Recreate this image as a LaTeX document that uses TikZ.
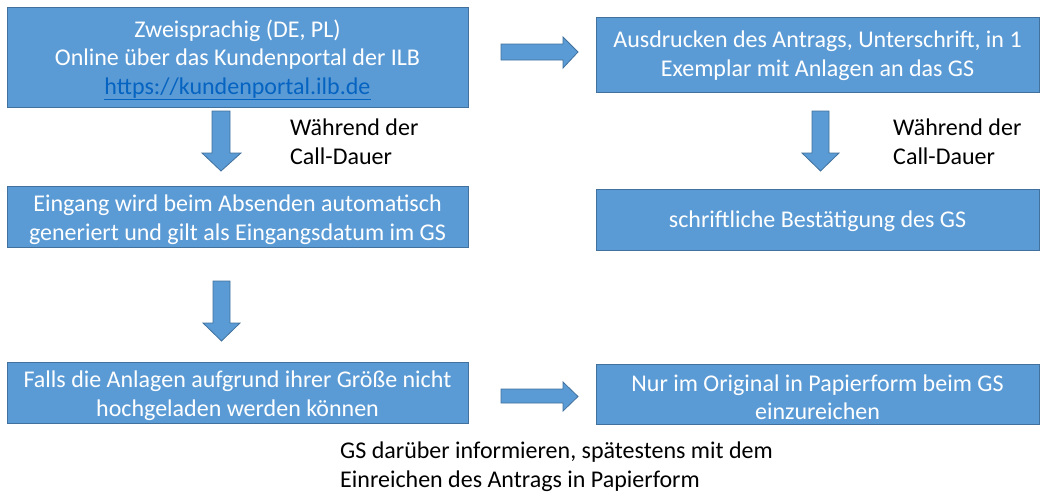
\documentclass[tikz,border=0pt]{standalone}
\usepackage{fontspec}
\setmainfont{Carlito}
\definecolor{boxfill}{HTML}{5B9BD5}
\definecolor{boxline}{HTML}{41719C}
\definecolor{linkblue}{HTML}{0563C1}
\begin{document}
\begin{tikzpicture}[x=1pt,y=-1pt,
  flowbox/.style={draw=boxline,fill=boxfill,line width=1pt,rectangle,inner sep=0pt},
  boxtext/.style={text=white,align=center,inner sep=0pt,yshift=-3pt,font=\fontsize{24}{28.5}\selectfont},
  blockarrow/.style={draw=boxline,fill=boxfill,line width=0.8pt,line join=miter},
  note/.style={anchor=base west,align=left,inner sep=0pt,text=black,font=\fontsize{24}{29}\selectfont}]
\useasboundingbox (0,0) rectangle (1043,491);
\fill[white] (0,0) rectangle (1043,491);
% boxes
\node[flowbox,minimum width=461pt,minimum height=100pt,
  label={[boxtext]center:Zweisprachig (DE, PL)\\Online über das Kundenportal der ILB\\\textcolor{linkblue}{\underline{https://kundenportal.ilb.de}}}] (l1) at (237.5,57) {};
\node[flowbox,minimum width=461pt,minimum height=61pt,
  label={[boxtext]center:Eingang wird beim Absenden automatisch\\generiert und gilt als Eingangsdatum im GS}] (l2) at (237.5,216.5) {};
\node[flowbox,minimum width=461pt,minimum height=61pt,
  label={[boxtext]center:Falls die Anlagen aufgrund ihrer Größe nicht\\hochgeladen werden können}] (l3) at (237.5,392.5) {};
\node[flowbox,minimum width=443pt,minimum height=75pt,
  label={[boxtext,yshift=2pt]center:Ausdrucken des Antrags, Unterschrift, in 1\\Exemplar mit Anlagen an das GS}] (r1) at (817.5,54.5) {};
\node[flowbox,minimum width=443pt,minimum height=61pt,
  label={[boxtext,yshift=1pt]center:schriftliche Bestätigung des GS}] (r2) at (817.5,219.5) {};
\node[flowbox,minimum width=443pt,minimum height=60pt,
  label={[boxtext]center:Nur im Original in Papierform beim GS\\einzureichen}] (r3) at (817.5,394) {};
% block arrows
\draw[blockarrow] (501,44) -- (563,44) -- (563,37) -- (578,52) -- (563,68) -- (563,60) -- (501,60) -- cycle;
\draw[blockarrow] (501,389) -- (563,389) -- (563,382) -- (578,396.5) -- (563,411) -- (563,403) -- (501,403) -- cycle;
\draw[blockarrow] (212,111) -- (230,111) -- (230,153) -- (241,153) -- (221,171) -- (202,153) -- (212,153) -- cycle;
\draw[blockarrow] (812,111) -- (829,111) -- (829,153) -- (839,153) -- (820.5,171) -- (802,153) -- (812,153) -- cycle;
\draw[blockarrow] (213,281) -- (230,281) -- (230,323) -- (240,323) -- (221.5,341) -- (203,323) -- (213,323) -- cycle;
% labels (base anchor = baseline of last line)
\node[note] (t1) at (290,164) {Während der\\Call-Dauer};
\node[note] (t2) at (893,164) {Während der\\Call-Dauer};
\node[note] (t3) at (340,487) {GS darüber informieren, spätestens mit dem\\Einreichen des Antrags in Papierform};
\end{tikzpicture}
\end{document}
